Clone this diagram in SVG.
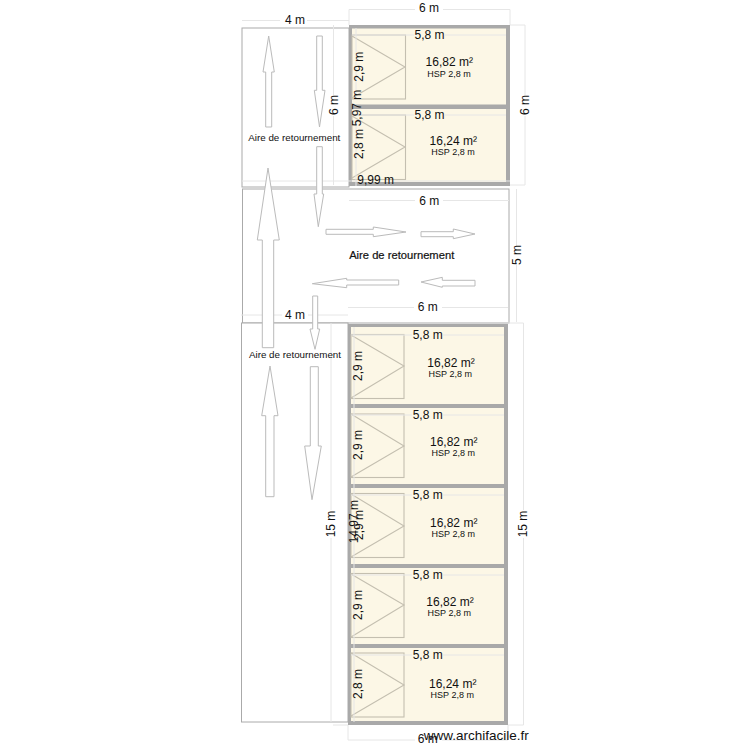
<svg xmlns="http://www.w3.org/2000/svg" width="750" height="750" viewBox="0 0 750 750">
<style>
text{font-family:"Liberation Sans",Arial,sans-serif;fill:#111;text-anchor:middle;dominant-baseline:central}
.d{font-size:12px}
.a{font-size:12px}
.h{font-size:9px}
.r{font-size:9.800px}
.zone{fill:#fff;stroke:#aaa;stroke-width:1}
.wall{fill:#a9a9a9}
.room{fill:#fcf7e6}
.door{fill:none;stroke:#c4bfb0;stroke-width:1.1}
.arrow{fill:#fff;stroke:#bbb;stroke-width:1}
.dim{stroke:#e6e6e6;stroke-width:1;fill:none}
</style>
<rect width="750" height="750" fill="#fff"/>
<g id="zones">
<rect class="zone" x="242" y="28" width="107" height="159"/>
<rect class="zone" x="242.500" y="189" width="266.500" height="134"/>
<rect class="zone" x="241.500" y="323" width="106.500" height="399"/>
</g>
<g id="walls">
<rect class="wall" x="349" y="25" width="161" height="161"/>
<rect class="wall" x="348" y="324" width="160" height="401"/>
</g>
<g id="room-1"><rect class="room" x="352" y="28.500" width="154" height="76"/><rect class="door" x="352" y="35" width="53.500" height="64"/><path class="door" d="M352 36L405 67L352 98"/></g>
<g id="room-2"><rect class="room" x="352" y="109" width="154" height="73"/><rect class="door" x="352" y="115" width="53.500" height="64.500"/><path class="door" d="M352 116L405 147L352 178"/></g>
<g id="room-3"><rect class="room" x="351" y="327" width="153" height="77"/><rect class="door" x="351" y="334.500" width="53" height="64"/><path class="door" d="M351 335L404 366L351 398"/></g>
<g id="room-4"><rect class="room" x="351" y="408" width="153" height="76"/><rect class="door" x="351" y="414" width="53" height="63.500"/><path class="door" d="M351 414L404 446L351 477"/></g>
<g id="room-5"><rect class="room" x="351" y="488" width="153" height="76"/><rect class="door" x="351" y="493.500" width="53" height="64"/><path class="door" d="M351 494L404 526L351 557"/></g>
<g id="room-6"><rect class="room" x="351" y="568" width="153" height="76"/><rect class="door" x="351" y="573.500" width="53" height="64"/><path class="door" d="M351 574L404 605L351 637"/></g>
<g id="room-7"><rect class="room" x="351" y="648" width="153" height="73"/><rect class="door" x="351" y="653" width="53" height="64"/><path class="door" d="M351 653L404 685L351 716"/></g>
<g id="connectors">
<path class="dim" d="M349 9.500H415M443 9.500H510M349 9.500V25M510 9.500V25M242 20.500H280M307 20.500H349M510 25H525V95M525 116V185H510M333.500 25V95M333.500 116V185M352 35H414M445 35H506M352 115H414M445 115H506M242 181H358M394 181H510M356 28V95M356 122V186M349 200.500H415M443 200.500H509M516.500 189V246M516.500 265V322M348 307.500H414M442 307.500H508M241 315H282M308 315H348M351 335H412M443 335H504M351 415H412M443 415H504M351 495H412M443 495H504M351 575H412M443 575H504M351 655H412M443 655H504M331 323V510M331 538V722M523.500 323V510M523.500 538V725M508 323H523.500M508 725H523.500M354 327V505M354 540V722M348 725V740H415M442 740H508V725M348 725H333"/>
</g>
<g id="arrows">
<polygon class="arrow" points="268.700,36 274.300,72 271.700,72 271.700,127 265.700,127 265.700,72 263,72"/>
<polygon class="arrow" points="316.700,36 322.300,36 322.300,90.300 325,90.300 319.500,127 314.300,90.300 316.700,90.300"/>
<polygon class="arrow" points="316.700,146.700 322.300,146.700 322.300,194 323.700,194 318.300,226.700 314,194 316.700,194"/>
<polygon class="arrow" points="268,168 279.300,240 273.700,240 273.700,347.700 262.300,347.700 262.300,240 257.300,240"/>
<polygon class="arrow" points="326,229.300 373.300,229.300 373.300,227 406,232 373.300,236.700 373.300,234.300 326,234.300"/>
<polygon class="arrow" points="421,231.700 453.300,231.700 453.300,229 475,234 453.300,238.700 453.300,236.700 421,236.700"/>
<polygon class="arrow" points="312.300,283.700 346.700,278.300 346.700,280 398.700,280 398.700,285 346.700,285 346.700,287.700"/>
<polygon class="arrow" points="421,282 442.300,277.300 442.300,280.300 475,280.300 475,286 442.300,286 442.300,287.300"/>
<polygon class="arrow" points="312.700,296 317.700,296 317.700,329 319.700,329 315,349.300 310,329 312.700,329"/>
<polygon class="arrow" points="270,366 278,415.700 274,415.700 274,496.700 265.700,496.700 265.700,415.700 261.700,415.700"/>
<polygon class="arrow" points="310.300,366.700 318.300,366.700 318.300,446 321.300,446 312,499.700 304.700,446 310.300,446"/>
</g>
<g id="labels">
<text class="d" x="429" y="8">6 m</text>
<text class="d" x="295" y="20">4 m</text>
<text class="d" transform="translate(525 105) rotate(-90)">6 m</text>
<text class="d" transform="translate(333.500 105) rotate(-90)">6 m</text>
<text class="d" x="429.500" y="35">5,8 m</text>
<text class="a" x="449.300" y="62">16,82 m²</text><text class="h" x="449" y="74">HSP 2,8 m</text>
<text class="d" transform="translate(359 66.700) rotate(-90)">2,9 m</text>
<text class="d" transform="translate(356.700 108) rotate(-90)">5,97 m</text>
<text class="d" x="429.500" y="115">5,8 m</text>
<text class="a" x="453.300" y="141">16,24 m²</text><text class="h" x="453" y="152">HSP 2,8 m</text>
<text class="d" transform="translate(359 144) rotate(-90)">2,8 m</text>
<text class="d" x="375.700" y="180">9,99 m</text>
<text class="r" x="294.300" y="137.700">Aire de retournement</text>
<text class="d" x="429.300" y="200.700">6 m</text>
<text class="d" transform="translate(516.700 255) rotate(-90)">5 m</text>
<text style="font-size:11.200px;stroke:#111;stroke-width:.2" x="401.700" y="255">Aire de retournement</text>
<text class="d" x="427.700" y="307.300">6 m</text>
<text class="d" x="295" y="314.700">4 m</text>
<text class="r" x="295" y="354.700">Aire de retournement</text>
<text class="d" x="427.700" y="334.700">5,8 m</text>
<text class="a" x="451" y="362.700">16,82 m²</text><text class="h" x="450.300" y="373.700">HSP 2,8 m</text>
<text class="d" transform="translate(358 366) rotate(-90)">2,9 m</text>
<text class="d" x="427.700" y="414.700">5,8 m</text>
<text class="a" x="453.700" y="441.700">16,82 m²</text><text class="h" x="453.300" y="452.700">HSP 2,8 m</text>
<text class="d" transform="translate(357.700 445) rotate(-90)">2,9 m</text>
<text class="d" x="427.700" y="495">5,8 m</text>
<text class="a" x="453.700" y="522.700">16,82 m²</text><text class="h" x="453.300" y="533.700">HSP 2,8 m</text>
<text class="d" transform="translate(359 525) rotate(-90)">2,9 m</text>
<text class="d" transform="translate(354.300 521.700) rotate(-90)">14,97 m</text>
<text class="d" transform="translate(330.700 524) rotate(-90)">15 m</text>
<text class="d" transform="translate(523.300 524) rotate(-90)">15 m</text>
<text class="d" x="427.700" y="575">5,8 m</text>
<text class="a" x="450" y="601.700">16,82 m²</text><text class="h" x="449.300" y="612.700">HSP 2,8 m</text>
<text class="d" transform="translate(357.700 605) rotate(-90)">2,9 m</text>
<text class="d" x="427.700" y="655">5,8 m</text>
<text class="a" x="452.700" y="684">16,24 m²</text><text class="h" x="452.300" y="694.700">HSP 2,8 m</text>
<text class="d" transform="translate(357.700 684) rotate(-90)">2,8 m</text>
<text class="d" x="427.700" y="739.300">6 m</text>
<text style="font-size:13.500px" x="476.300" y="735.700">www.archifacile.fr</text>
</g>
</svg>
